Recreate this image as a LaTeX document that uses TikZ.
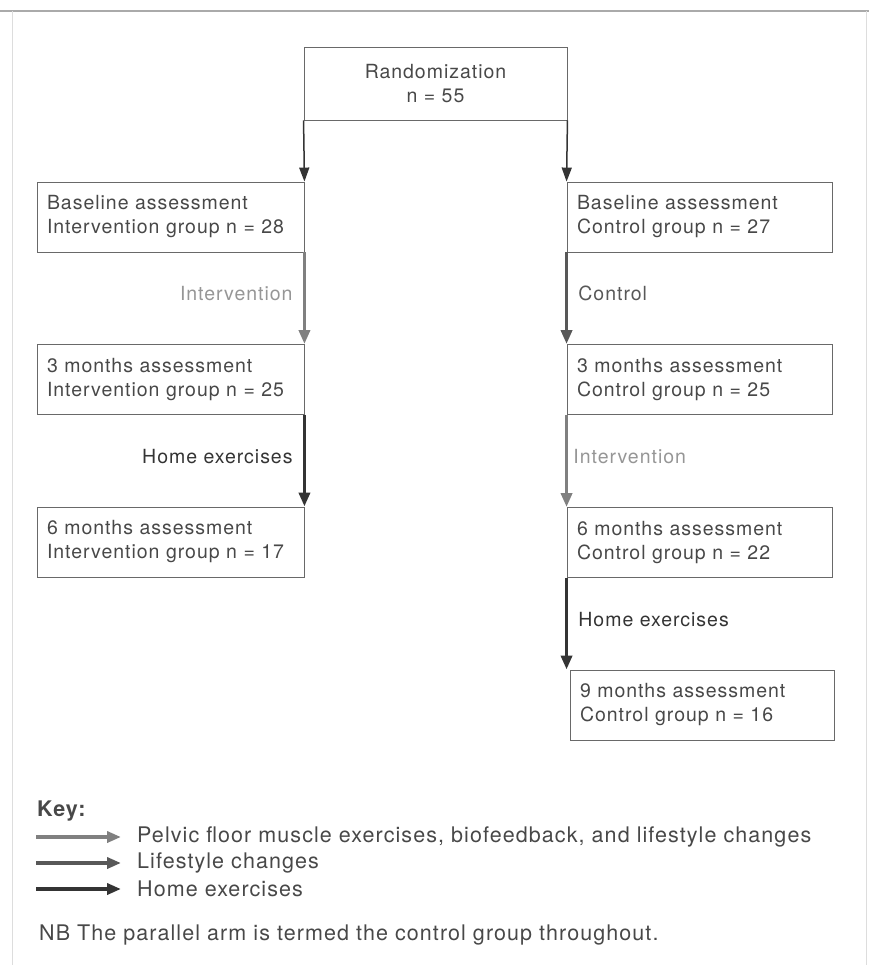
\documentclass[tikz,border=0pt]{standalone}
\usepackage{fontspec}
\usepackage{tikz}
\usetikzlibrary{positioning,arrows.meta}
\setmainfont[LetterSpace=5]{TeX Gyre Heros}
\definecolor{boxline}{RGB}{105,105,105}
\definecolor{txtcol} {RGB}{72,72,72}
\definecolor{intvcol}{RGB}{128,128,128}
\definecolor{ctrlcol}{RGB}{88,88,88}
\definecolor{homecol}{RGB}{52,52,52}
\definecolor{lblgray}{RGB}{150,150,150}
\definecolor{framecol}{RGB}{170,170,170}

\begin{document}
\begin{tikzpicture}[x=1pt,y=-1pt,
  every node/.style={font=\fontsize{19.5}{24}\selectfont,text=txtcol},
  abox/.style ={rectangle,draw=boxline,line width=0.9pt,minimum height=70pt,
                inner xsep=10pt,inner ysep=0pt,align=left,text width=#1},
  rbox/.style ={rectangle,draw=boxline,line width=0.9pt,minimum width=263pt,
                minimum height=73pt,align=center},
  thin/.style ={-{Triangle[length=14pt,width=10pt]},line width=1.5pt,draw=homecol},
  intv/.style ={-{Triangle[length=14pt,width=11pt]},line width=3.8pt,draw=intvcol},
  ctrl/.style ={-{Triangle[length=14pt,width=11pt]},line width=3.8pt,draw=ctrlcol},
  home/.style ={-{Triangle[length=14pt,width=11pt]},line width=3.8pt,draw=homecol},
  lbl/.style  ={inner sep=2pt,pos=0.45},
  legtxt/.style={anchor=west,inner sep=0pt,font=\fontsize{21.5}{26}\selectfont}
]
\useasboundingbox (0,0) rectangle (869,970);
% frame
\draw[framecol,line width=1.5pt] (0,11) -- (869,11);
\draw[framecol!40,line width=0.6pt] (12,11) -- (12,965);
\draw[framecol!40,line width=0.6pt] (866,11) -- (866,965);

\node[rbox] (rand) at (435.5,83.5) {Randomization\\n = 55};

\node[abox=247pt] (lbase) at (170.5,217) {Baseline assessment\\Intervention group n = 28};
\node[abox=247pt] (l3)    at (170.5,379.5) {3 months assessment\\Intervention group n = 25};
\node[abox=247pt] (l6)    at (170.5,542) {6 months assessment\\Intervention group n = 17};

\node[abox=245pt] (rbase) at (699.5,217) {Baseline assessment\\Control group n = 27};
\node[abox=245pt] (r3)    at (699.5,379.5) {3 months assessment\\Control group n = 25};
\node[abox=245pt] (r6)    at (699.5,542.5) {6 months assessment\\Control group n = 22};
\node[abox=244pt] (r9)    at (702,705) {9 months assessment\\Control group n = 16};

\draw[thin] (rand.south west) -- (lbase.north east);
\draw[thin] (rand.south east) -- (rbase.north west);

\draw[intv] (lbase.south east) -- node[lbl,left=8pt,text=lblgray]{Intervention} (l3.north east);
\draw[home] (l3.south east) -- node[lbl,left=8pt,text=homecol]{Home exercises} (l6.north east);

\draw[ctrl] (rbase.south west) -- node[lbl,right=8pt,text=ctrlcol]{Control} (r3.north west);
\draw[intv] (r3.south west) -- node[lbl,right=3pt,text=lblgray]{Intervention} (r6.north west);
\draw[home] (r6.south west) -- node[lbl,right=8pt,text=homecol]{Home exercises} (r6.south west |- r9.north);

% key
\node[legtxt,font=\fontsize{21.5}{26}\selectfont\bfseries] (key) at (37,811) {Key:};
\node[legtxt] (k1) at (137,837) {Pelvic floor muscle exercises, biofeedback, and lifestyle changes};
\node[legtxt] (k2) at (137,863) {Lifestyle changes};
\node[legtxt] (k3) at (137,889) {Home exercises};
\coordinate (s1) at (36,837);
\coordinate (s2) at (36,863);
\coordinate (s3) at (36,889);
\draw[intv] (s1) -- ([xshift=-16pt]k1.west);
\draw[ctrl] (s2) -- ([xshift=-16pt]k2.west);
\draw[home] (s3) -- ([xshift=-16pt]k3.west);
\node[legtxt] (nb) at (39,935) {NB The parallel arm is termed the control group throughout.};
\end{tikzpicture}
\end{document}
